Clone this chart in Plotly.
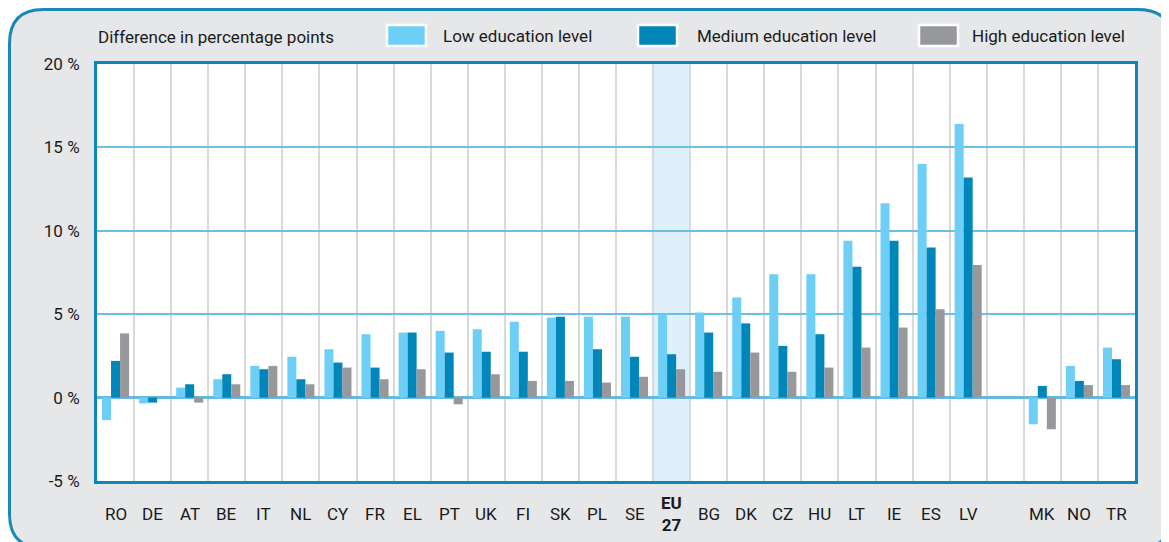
import plotly.graph_objects as go

# ---------------- data ----------------
categories = ["RO", "DE", "AT", "BE", "IT", "NL", "CY", "FR", "EL", "PT", "UK", "FI", "SK",
              "PL", "SE", "EU 27", "BG", "DK", "CZ", "HU", "LT", "IE", "ES", "LV", "",
              "MK", "NO", "TR"]
tick_labels = ["RO", "DE", "AT", "BE", "IT", "NL", "CY", "FR", "EL", "PT", "UK", "FI", "SK",
               "PL", "SE", "<b>EU<br>27</b>", "BG", "DK", "CZ", "HU", "LT", "IE", "ES", "LV", "",
               "MK", "NO", "TR"]
series_names = ["Low education level", "Medium education level", "High education level"]
low = [-1.35, -0.35, 0.6, 1.1, 1.9, 2.45, 2.9, 3.8, 3.9, 4.0, 4.1, 4.55, 4.8, 4.85, 4.85,
       5.0, 5.1, 6.0, 7.4, 7.4, 9.4, 11.65, 14.0, 16.4, None, -1.6, 1.9, 3.0]
medium = [2.2, -0.3, 0.8, 1.4, 1.7, 1.1, 2.1, 1.8, 3.9, 2.7, 2.75, 2.75, 4.85, 2.9, 2.45,
          2.6, 3.9, 4.45, 3.1, 3.8, 7.85, 9.4, 9.0, 13.2, None, 0.7, 1.0, 2.3]
high = [3.85, 0.0, -0.3, 0.8, 1.9, 0.8, 1.8, 1.1, 1.7, -0.4, 1.4, 1.0, 1.0, 0.9, 1.25,
        1.7, 1.55, 2.7, 1.55, 1.8, 3.0, 4.2, 5.3, 7.95, None, -1.9, 0.75, 0.75]
y_ticks = [-5, 0, 5, 10, 15, 20]
y_tick_labels = ["-5 %", "0 %", "5 %", "10 %", "15 %", "20 %"]
highlight = "EU 27"

# ---------------- style ----------------
colors = ["#6dcff6", "#0086b8", "#97989c"]
FONT = "Roboto, Liberation Sans, Arial, sans-serif"
TXT = "#1a1a1a"
OFF = 8                      # page offset of the figure (body margin)
W, H = 1169 - OFF, 542 - OFF
PL_, PT_, PR_, PB_ = 97, 64, 1135, 481   # plot area in page pixels
L, T = PL_ - OFF, PT_ - OFF
R, B = (W + OFF) - PR_, (H + OFF) - PB_
PW, PH = PR_ - PL_, PB_ - PT_


def px(x):
    return (x - PL_) / PW


def py(y):
    return (PB_ - y) / PH


pos = list(range(len(categories)))

fig = go.Figure()
for name, vals, col in zip(series_names, [low, medium, high], colors):
    fig.add_trace(go.Bar(x=pos, y=vals, name=name, marker=dict(color=col, line=dict(width=0)),
                         showlegend=False))

shapes = []
# outer rounded panel
x0, y0, x1, y1, r = 9.5, 9.5, 1172, 548, 34
pts = f"M {px(x0+r)},{py(y0)} L {px(x1-r)},{py(y0)} Q {px(x1)},{py(y0)} {px(x1)},{py(y0+r)} " \
      f"L {px(x1)},{py(y1-r)} Q {px(x1)},{py(y1)} {px(x1-r)},{py(y1)} " \
      f"L {px(x0+r)},{py(y1)} Q {px(x0)},{py(y1)} {px(x0)},{py(y1-r)} " \
      f"L {px(x0)},{py(y0+r)} Q {px(x0)},{py(y0)} {px(x0+r)},{py(y0)} Z"
shapes.append(dict(type="path", path=pts, xref="paper", yref="paper", layer="below",
                   fillcolor="#e6e7e9", line=dict(color="#1a88bb", width=3)))
# white plot area
shapes.append(dict(type="rect", xref="paper", yref="paper", x0=0, x1=1, y0=0, y1=1,
                   layer="below", fillcolor="white", line=dict(width=0)))
# highlighted EU column
hi = categories.index(highlight)
shapes.append(dict(type="rect", xref="x", yref="paper", x0=hi - 0.5, x1=hi + 0.5, y0=0, y1=1,
                   layer="below", fillcolor="#dff0fa", line=dict(width=0)))

annotations = []
# x labels
for p, t in zip(pos, tick_labels):
    if t:
        annotations.append(dict(x=p, y=0, xref="x", yref="paper", text=t, showarrow=False,
                                yshift=-33, yanchor="middle", xanchor="center",
                                font=dict(family=FONT, size=17, color=TXT)))
# title
annotations.append(dict(x=px(96), y=py(37), xref="paper", yref="paper",
                        text="Difference in percentage points", showarrow=False,
                        xanchor="left", yanchor="middle",
                        font=dict(family=FONT, size=17, color=TXT)))
# custom legend
sw_x = [386, 637, 918]
tx_x = [441, 695, 970]
for name, col, sx, tx in zip(series_names, colors, sw_x, tx_x):
    shapes.append(dict(type="rect", xref="paper", yref="paper", x0=px(sx + 1), x1=px(sx + 40),
                       y0=py(46), y1=py(25), fillcolor=col, line=dict(color="white", width=2.5),
                       layer="above"))
    annotations.append(dict(x=px(tx), y=py(36), xref="paper", yref="paper", text=name,
                            showarrow=False, xanchor="left", yanchor="middle",
                            font=dict(family=FONT, size=17, color=TXT)))

fig.update_layout(
    width=W, height=H,
    margin=dict(l=L, r=R, t=T, b=B),
    paper_bgcolor="white",
    plot_bgcolor="rgba(0,0,0,0)",
    barmode="group", bargap=0.27, bargroupgap=0,
    shapes=shapes, annotations=annotations,
    font=dict(family=FONT, size=17, color=TXT),
    xaxis=dict(range=[-0.5, len(categories) - 0.5], showticklabels=False, ticks="",
               showgrid=False, zeroline=False,
               showline=True, mirror=True, linecolor="#0e86b8", linewidth=3,
               minor=dict(tickmode="array", tickvals=[p + 0.5 for p in pos[:-1]],
                          showgrid=True, gridcolor="#d9d9d9", gridwidth=1.5, ticks="")),
    yaxis=dict(range=[-5, 20], tickmode="array", tickvals=y_ticks, ticktext=y_tick_labels,
               showgrid=True, gridcolor="#6cbfe3", gridwidth=1.5,
               zeroline=True, zerolinecolor="#66b8de", zerolinewidth=3,
               showline=True, mirror=True, linecolor="#0e86b8", linewidth=3,
               ticks="", ticklabelstandoff=11,
               tickfont=dict(family=FONT, size=17, color=TXT)),
)

fig.write_html("out.html")
